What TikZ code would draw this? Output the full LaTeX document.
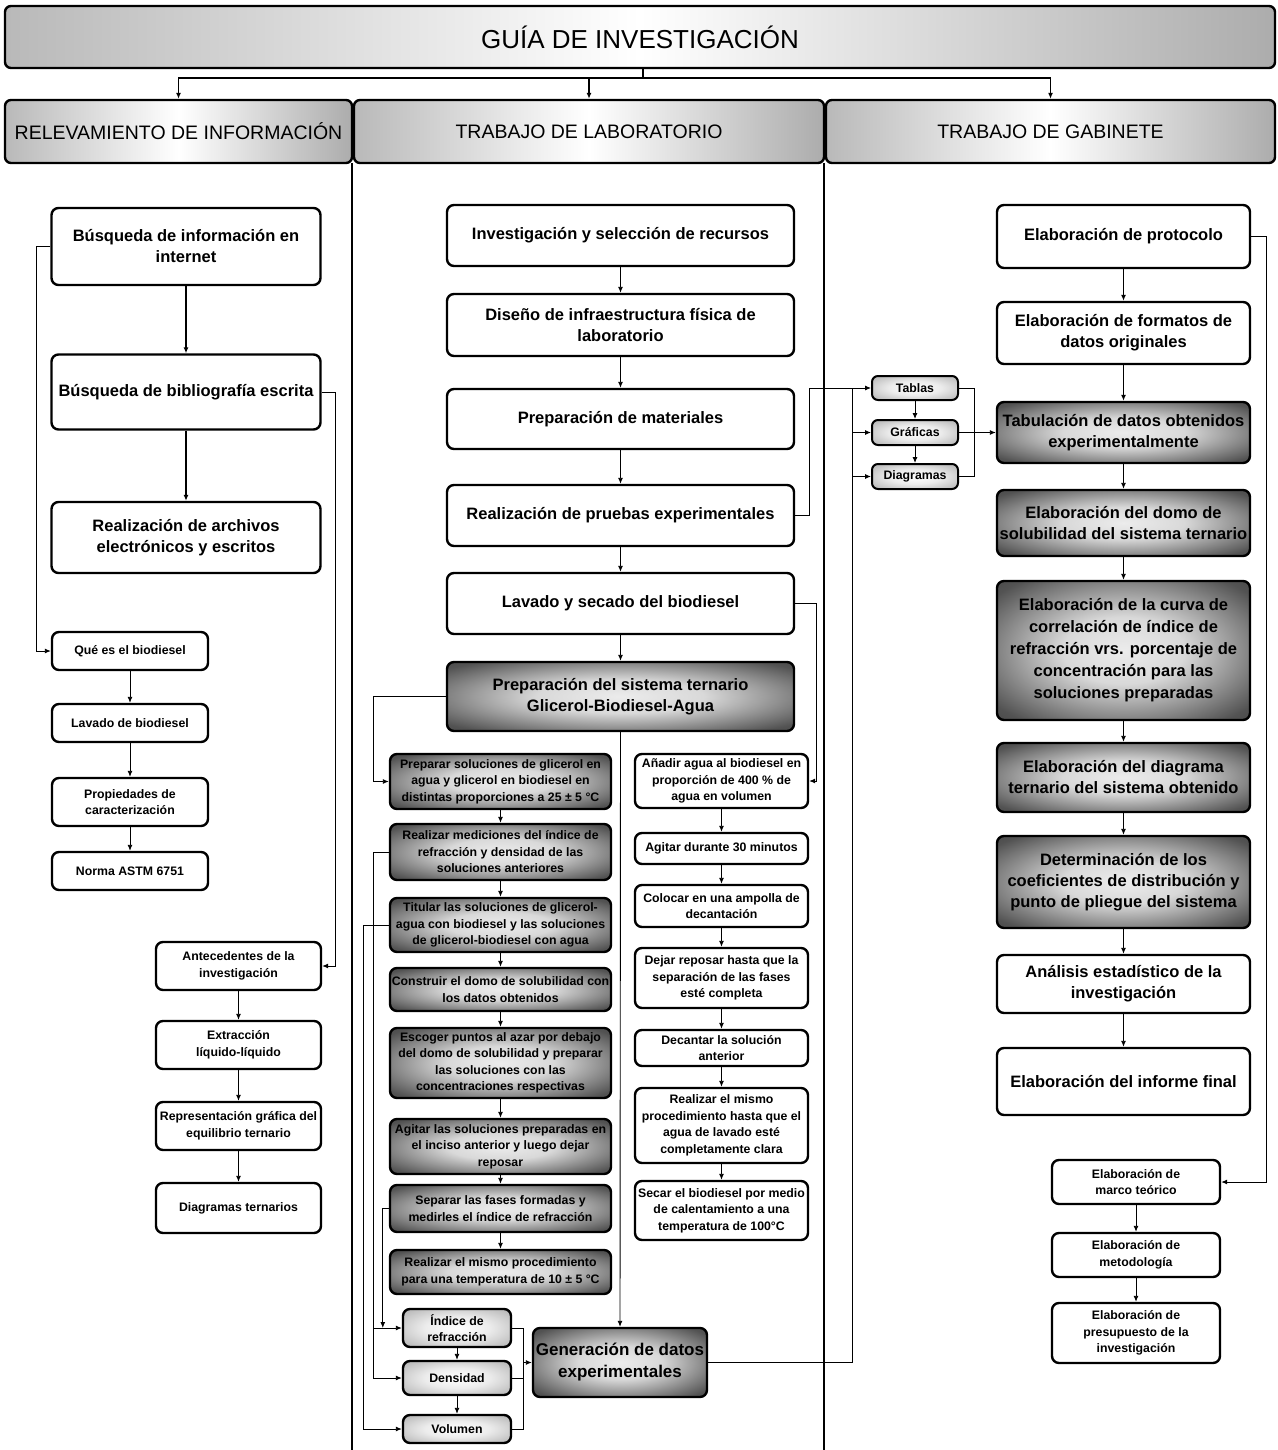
\documentclass[tikz,border=0pt]{standalone}
\usepackage{fontspec}
\setmainfont{Liberation Sans}
\usetikzlibrary{arrows.meta}
\pgfdeclareradialshading{sombra}{\pgfpoint{0bp}{0bp}}{color(0bp)=(gray!15); color(12bp)=(gray!30); color(32bp)=(gray!65!black); color(50bp)=(black!85)}
\pgfdeclareradialshading{sombraclara}{\pgfpoint{0bp}{0bp}}{color(0bp)=(white); color(15bp)=(gray!15); color(35bp)=(gray!60); color(50bp)=(gray!80)}
\tikzset{
  tam/.style 2 args={minimum width=#1pt, minimum height=#2pt},
  caja/.style={draw, line width=2.4pt, rounded corners=7pt, fill=white, align=center, inner sep=0pt, font=\fontsize{16.5}{21}\selectfont\bfseries},
  cajaosc/.style={caja, shading=sombra, shade},
  cajamed/.style={caja, shading=sombraclara, shade},
  chica/.style={font=\fontsize{12.3}{16.5}\selectfont\bfseries},
  encab/.style={draw, line width=2.4pt, rounded corners=6pt, left color=gray!55, right color=gray!65, middle color=white, font=\fontsize{19.5}{22}\selectfont},
  flecha/.style={-{Latex[length=6pt,width=5pt]}, line width=0.9pt},
  linea/.style={line width=0.9pt}
}
\begin{document}
\begin{tikzpicture}[x=1pt, y=-1pt]
\fill[white] (0,0) rectangle (1277,1450);
\useasboundingbox (0,0) rectangle (1277,1450);

\node[encab, tam={1270}{62}, font=\fontsize{26}{30}\selectfont] (titulo) at (640,37) {GUÍA DE INVESTIGACIÓN};
\node[encab, tam={347}{63}] (relev) at (178.5,131.5) {RELEVAMIENTO DE INFORMACIÓN};
\node[encab, tam={470}{63}] (lab) at (589,131.5) {TRABAJO DE LABORATORIO};
\node[encab, tam={449}{63}] (gab) at (1050.5,131.5) {TRABAJO DE GABINETE};
\coordinate (rama) at (643,78);
\draw[line width=1.4pt] (titulo.south -| rama) -- (rama);
\draw[flecha, line width=1.4pt] (rama) -| (relev.north);
\draw[flecha, line width=1.4pt] (rama) -| (lab.north);
\draw[flecha, line width=1.4pt] (rama) -| (gab.north);
\draw[line width=2.6pt] (352,163) -- (352,1450);
\draw[line width=2.6pt] (824,163) -- (824,1450);

\node[caja, tam={269}{77}] (b1) at (186,246.5) {Búsqueda de información en\\internet};
\node[caja, tam={269}{75}] (b2) at (186,392) {Búsqueda de bibliografía escrita};
\node[caja, tam={269}{71}] (b3) at (186,537.5) {Realización de archivos\\electrónicos y escritos};
\node[caja, chica, tam={156}{38}] (q1) at (130,651) {Qué es el biodiesel};
\node[caja, chica, tam={156}{38}] (q2) at (130,723) {Lavado de biodiesel};
\node[caja, chica, tam={156}{48}] (q3) at (130,802) {Propiedades de\\caracterización};
\node[caja, chica, tam={156}{38}] (q4) at (130,871) {Norma ASTM 6751};
\node[caja, chica, tam={165}{48}] (a1) at (238.5,966) {Antecedentes de la\\investigación};
\node[caja, chica, tam={165}{48}] (a2) at (238.5,1045) {Extracción\\líquido-líquido};
\node[caja, chica, tam={165}{48}] (a3) at (238.5,1126) {Representación gráfica del\\equilibrio ternario};
\node[caja, chica, tam={165}{50}] (a4) at (238.5,1208) {Diagramas ternarios};
\draw[flecha, line width=1.6pt] (b1) -- (b2);
\draw[flecha, line width=1.6pt] (b2) -- (b3);
\draw[flecha] (b1.west) -- ++(-14,0) |- (q1.west);
\draw[flecha] (b2.east) -- ++(14,0) |- (a1.east);
\draw[flecha] (q1) -- (q2);
\draw[flecha] (q2) -- (q3);
\draw[flecha] (q3) -- (q4);
\draw[flecha] (a1) -- (a2);
\draw[flecha] (a2) -- (a3);
\draw[flecha] (a3) -- (a4);

\node[caja, tam={347}{61}] (l1) at (620.5,235.5) {Investigación y selección de recursos};
\node[caja, tam={347}{62}] (l2) at (620.5,325) {Diseño de infraestructura física de\\laboratorio};
\node[caja, tam={347}{60}] (l3) at (620.5,419) {Preparación de materiales};
\node[caja, tam={347}{61}] (l4) at (620.5,515.5) {Realización de pruebas experimentales};
\node[caja, tam={347}{61}] (l5) at (620.5,603.5) {Lavado y secado del biodiesel};
\node[cajaosc, tam={347}{69}] (l6) at (620.5,696.5) {Preparación del sistema ternario\\Glicerol-Biodiesel-Agua};
\draw[flecha] (l1) -- (l2);
\draw[flecha] (l2) -- (l3);
\draw[flecha] (l3) -- (l4);
\draw[flecha] (l4) -- (l5);
\draw[flecha] (l5) -- (l6);

\node[cajaosc, chica, tam={221}{55}] (p1) at (500.5,781.5) {Preparar soluciones de glicerol en\\agua y glicerol en biodiesel en\\distintas proporciones a 25 ± 5 °C};
\node[cajaosc, chica, tam={221}{56}] (p2) at (500.5,852) {Realizar mediciones del índice de\\refracción y densidad de las\\soluciones anteriores};
\node[cajaosc, chica, tam={221}{54}] (p3) at (500.5,925) {Titular las soluciones de glicerol-\\agua con biodiesel y las soluciones\\de glicerol-biodiesel con agua};
\node[cajaosc, chica, tam={221}{43}] (p4) at (500.5,989.5) {Construir el domo de solubilidad con\\los datos obtenidos};
\node[cajaosc, chica, tam={221}{70}] (p5) at (500.5,1063) {Escoger puntos al azar por debajo\\del domo de solubilidad y preparar\\las soluciones con las\\concentraciones respectivas};
\node[cajaosc, chica, tam={221}{55}] (p6) at (500.5,1146.5) {Agitar las soluciones preparadas en\\el inciso anterior y luego dejar\\reposar};
\node[cajaosc, chica, tam={221}{47}] (p7) at (500.5,1208.5) {Separar las fases formadas y\\medirles el índice de refracción};
\node[cajaosc, chica, tam={221}{44}] (p8) at (500.5,1272) {Realizar el mismo procedimiento\\para una temperatura de 10 ± 5 °C};
\draw[flecha] (p1) -- (p2);
\draw[flecha] (p2) -- (p3);
\draw[flecha] (p3) -- (p4);
\draw[flecha] (p4) -- (p5);
\draw[flecha] (p5) -- (p6);
\draw[flecha] (p6) -- (p7);
\draw[flecha] (p7) -- (p8);

\node[caja, chica, tam={173}{54}] (r1) at (721.5,781) {Añadir agua al biodiesel en\\proporción de 400 \% de\\agua en volumen};
\node[caja, chica, tam={173}{31}] (r2) at (721.5,848.5) {Agitar durante 30 minutos};
\node[caja, chica, tam={173}{42}] (r3) at (721.5,906) {Colocar en una ampolla de\\decantación};
\node[caja, chica, tam={173}{60}] (r4) at (721.5,978) {Dejar reposar hasta que la\\separación de las fases\\esté completa};
\node[caja, chica, tam={173}{36}] (r5) at (721.5,1048) {Decantar la solución\\anterior};
\node[caja, chica, tam={173}{75}] (r6) at (721.5,1125.5) {Realizar el mismo\\procedimiento hasta que el\\agua de lavado esté\\completamente clara};
\node[caja, chica, tam={173}{59}] (r7) at (721.5,1210.5) {Secar el biodiesel por medio\\de calentamiento a una\\temperatura de 100°C};
\draw[flecha] (r1) -- (r2);
\draw[flecha] (r2) -- (r3);
\draw[flecha] (r3) -- (r4);
\draw[flecha] (r4) -- (r5);
\draw[flecha] (r5) -- (r6);
\draw[flecha] (r6) -- (r7);

\node[cajamed, chica, tam={108}{38}] (s1) at (457,1328) {Índice de\\refracción};
\node[cajamed, chica, tam={108}{34}] (s2) at (457,1378) {Densidad};
\node[cajamed, chica, tam={108}{28}] (s3) at (457,1429) {Volumen};
\node[cajaosc, tam={174}{69}, font=\fontsize{17}{22}\selectfont\bfseries] (gen) at (620,1362.5) {Generación de datos\\experimentales};
\draw[flecha] (s1) -- (s2);
\draw[flecha] (s2) -- (s3);

\draw[flecha] (l5.east) -- ++(21,0) |- (r1.east);
\draw[flecha] (l6.west) -- ++(-72,0) |- (p1.west);
\draw[flecha] (l6.south) -- (gen.north);
\draw[flecha] (p2.west) -- ++(-15,0) coordinate (c2) |- (s2.west);
\draw[flecha] (c2 |- s1.west) -- (s1.west);
\draw[flecha] (p3.west) -- ++(-25,0) |- (s3.west);
\draw[flecha] (p7.west) -- ++(-6,0) coordinate (c7) -- (c7 |- s1.west);
\draw[linea] (s1.east) -- ++(11,0) coordinate (k1) -- (k1 |- s3.east) -- (s3.east);
\draw[linea] (s2.east) -- (k1 |- s2.east);
\draw[flecha] (k1 |- gen.west) -- (gen.west);

\node[cajamed, chica, tam={86}{24}, line width=2pt, rounded corners=6pt] (tab) at (915,388) {Tablas};
\node[cajamed, chica, tam={86}{25}, line width=2pt, rounded corners=6pt] (gra) at (915,432.5) {Gráficas};
\node[cajamed, chica, tam={86}{25}, line width=2pt, rounded corners=6pt] (dia) at (915,476.5) {Diagramas};
\draw[flecha] (tab) -- (gra);
\draw[flecha] (gra) -- (dia);
\draw[linea] (gen.east) -- ++(144,0) coordinate (cg) -- (cg |- tab.west);
\draw[flecha] (l4.east) -- ++(14,0) |- (tab.west);
\draw[flecha] (cg |- gra.west) -- (gra.west);
\draw[flecha] (cg |- dia.west) -- (dia.west);
\draw[linea] (tab.east) -- ++(15,0) coordinate (ct) -- (ct |- dia.east) -- (dia.east);

\node[caja, tam={253}{63}] (t1) at (1123.5,236.5) {Elaboración de protocolo};
\node[caja, tam={253}{62}] (t2) at (1123.5,333) {Elaboración de formatos de\\datos originales};
\node[cajaosc, tam={253}{61}] (t3) at (1123.5,432.5) {Tabulación de datos obtenidos\\experimentalmente};
\node[cajaosc, tam={253}{66}] (t4) at (1123.5,523) {Elaboración del domo de\\solubilidad del sistema ternario};
\node[cajaosc, tam={253}{139}, font=\fontsize{16.5}{22}\selectfont\bfseries] (t5) at (1123.5,650.5) {Elaboración de la curva de\\correlación de índice de\\refracción vrs. porcentaje de\\concentración para las\\soluciones preparadas};
\node[cajaosc, tam={253}{69}] (t6) at (1123.5,777.5) {Elaboración del diagrama\\ternario del sistema obtenido};
\node[cajaosc, tam={253}{92}] (t7) at (1123.5,882) {Determinación de los\\coeficientes de distribución y\\punto de pliegue del sistema};
\node[caja, tam={253}{58}] (t8) at (1123.5,984) {Análisis estadístico de la\\investigación};
\node[caja, tam={253}{67}] (t9) at (1123.5,1081.5) {Elaboración del informe final};
\draw[flecha] (gra.east) -- (t3.west);
\draw[flecha, line width=1.4pt] (t1) -- (t2);
\draw[flecha, line width=1.4pt] (t2) -- (t3);
\draw[flecha] (t3) -- (t4);
\draw[flecha] (t4) -- (t5);
\draw[flecha] (t5) -- (t6);
\draw[flecha] (t6) -- (t7);
\draw[flecha] (t7) -- (t8);
\draw[flecha] (t8) -- (t9);

\node[caja, chica, tam={168}{44}] (m1) at (1136,1182) {Elaboración de\\marco teórico};
\node[caja, chica, tam={168}{44}] (m2) at (1136,1255) {Elaboración de\\metodología};
\node[caja, chica, tam={168}{60}] (m3) at (1136,1333) {Elaboración de\\presupuesto de la\\investigación};
\draw[flecha] (t1.east) -- ++(15,0) |- (m1.east);
\draw[flecha] (m1) -- (m2);
\draw[flecha] (m2) -- (m3);
\end{tikzpicture}
\end{document}
